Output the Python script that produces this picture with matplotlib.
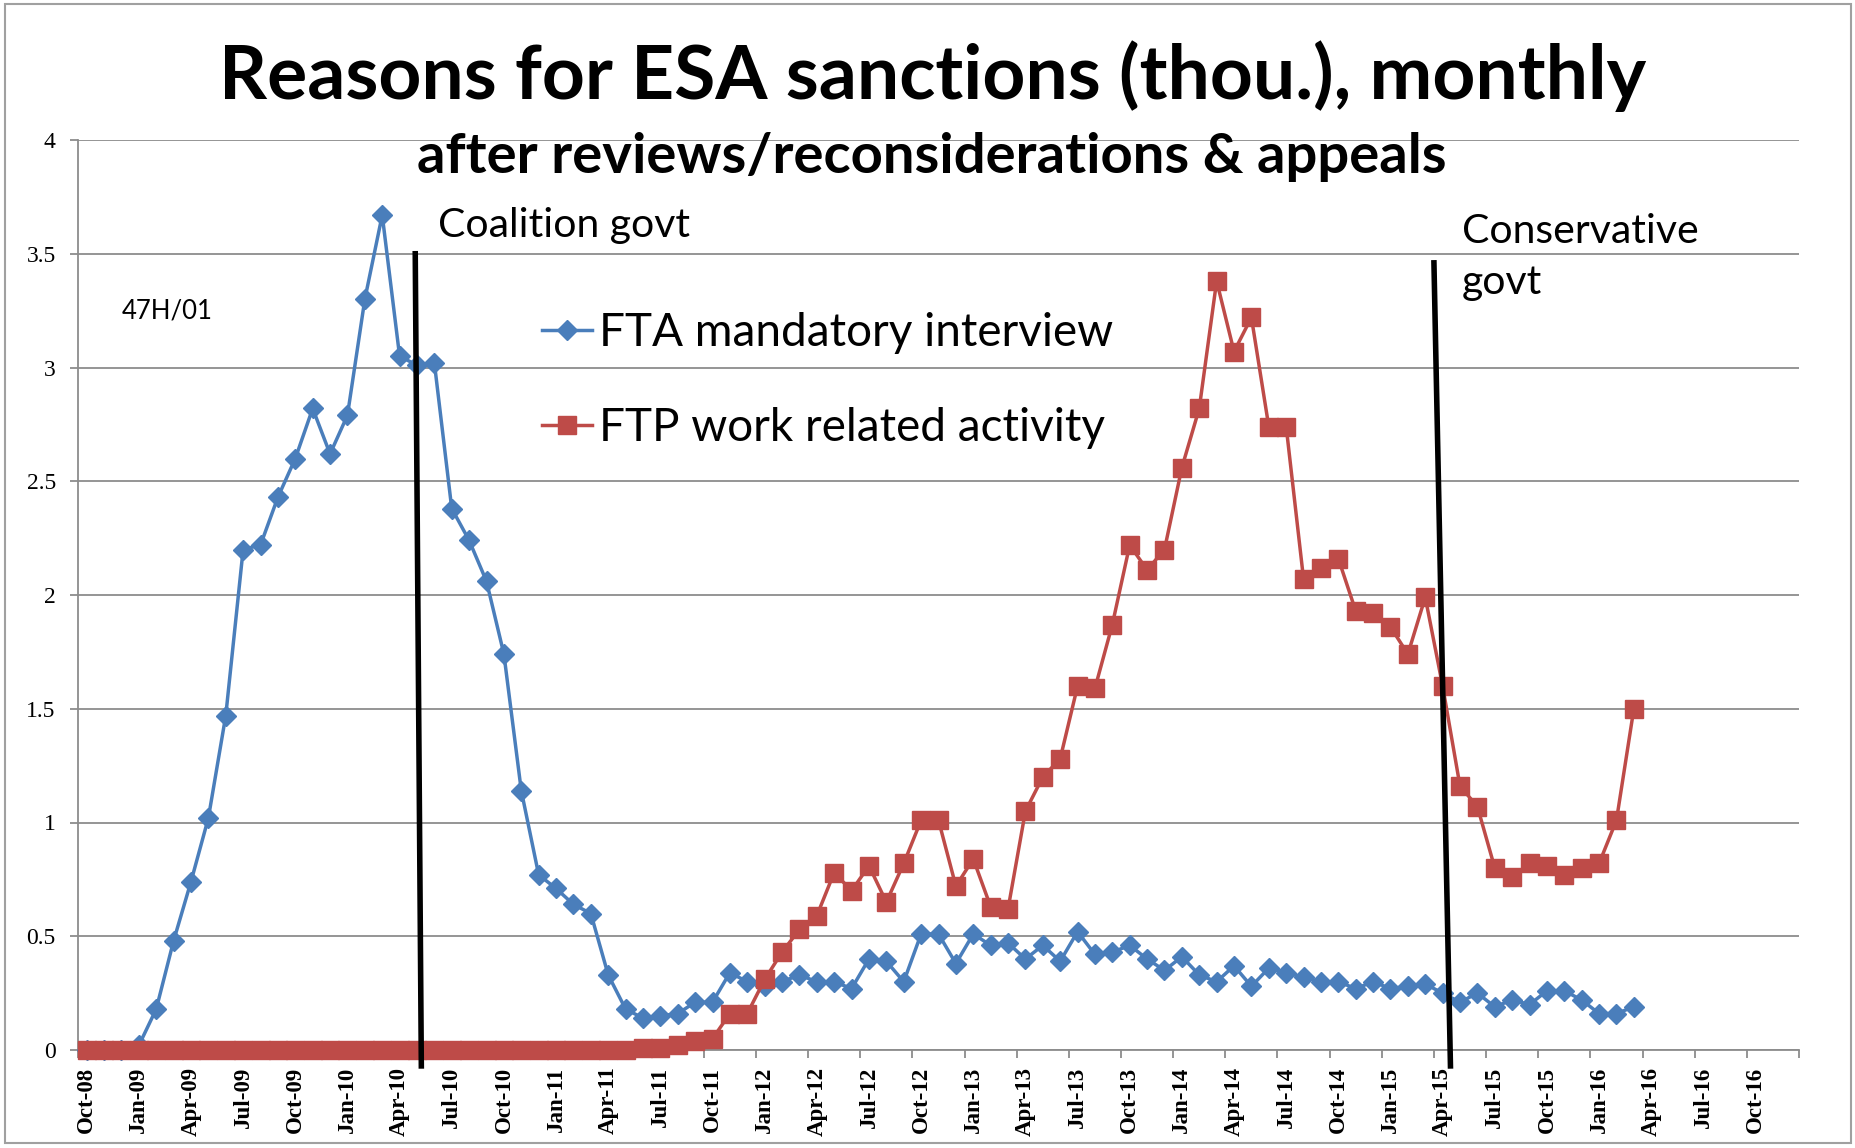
import matplotlib.pyplot as plt
import matplotlib.patches as mpatches
import pandas as pd

# categories: monthly, Oct-08 .. Dec-16 (axis runs past the data)
months = pd.date_range("2008-10-01", "2016-12-01", freq="MS").strftime("%b-%y").tolist()

# thousands of sanctions, Oct-08 .. Mar-16
fta = [0, 0, 0, 0.02, 0.18, 0.48, 0.74, 1.02, 1.47, 2.20,
       2.22, 2.43, 2.60, 2.82, 2.62, 2.79, 3.30, 3.67, 3.05, 3.01,
       3.02, 2.38, 2.24, 2.06, 1.74, 1.14, 0.77, 0.71, 0.64, 0.60,
       0.33, 0.18, 0.14, 0.15, 0.16, 0.21, 0.21, 0.34, 0.30, 0.28,
       0.30, 0.33, 0.30, 0.30, 0.27, 0.40, 0.39, 0.30, 0.51, 0.51,
       0.38, 0.51, 0.46, 0.47, 0.40, 0.46, 0.39, 0.52, 0.42, 0.43,
       0.46, 0.40, 0.35, 0.41, 0.33, 0.30, 0.37, 0.28, 0.36, 0.34,
       0.32, 0.30, 0.30, 0.27, 0.30, 0.27, 0.28, 0.29, 0.25, 0.21,
       0.25, 0.19, 0.22, 0.20, 0.26, 0.26, 0.22, 0.16, 0.16, 0.19]

ftp = [0] * 32 + [
       0.01, 0.01, 0.02, 0.04, 0.05, 0.16, 0.16, 0.31,
       0.43, 0.53, 0.59, 0.78, 0.70, 0.81, 0.65, 0.82, 1.01, 1.01,
       0.72, 0.84, 0.63, 0.62, 1.05, 1.20, 1.28, 1.60, 1.59, 1.87,
       2.22, 2.11, 2.20, 2.56, 2.82, 3.38, 3.07, 3.22, 2.74, 2.74,
       2.07, 2.12, 2.16, 1.93, 1.92, 1.86, 1.74, 1.99, 1.60, 1.16,
       1.07, 0.80, 0.76, 0.82, 0.81, 0.77, 0.80, 0.82, 1.01, 1.50]

# change of government markers (hand drawn, slightly slanted): x top, x bottom, y top
govt_lines = [(18.9, 19.25, 3.5), (77.5, 78.45, 3.46)]

blue = "#4a7ebb"
red = "#be4b48"
grey = "#8c8c8c"
font = "Lato"

fig = plt.figure(figsize=(18.56, 11.48), dpi=100)
ax = fig.add_axes([78 / 1856, 1 - 1050 / 1148, (1799 - 78) / 1856, (1050 - 140) / 1148])

x_fta = range(len(fta))
x_ftp = range(len(ftp))
ax.plot(x_fta, fta, color=blue, lw=2.5, marker="D", ms=10.5, mec=blue,
        label="FTA mandatory interview", clip_on=False, zorder=3)
ax.plot(x_ftp, ftp, color=red, lw=2.5, marker="s", ms=13.5, mec=red,
        label="FTP work related activity", clip_on=False, zorder=4)

for xt, xb, yt in govt_lines:
    ax.plot([xt, xb], [yt, -0.07], color="black", lw=4, clip_on=False, zorder=6)

ax.set_xlim(-0.5, len(months) - 0.5)
ax.set_ylim(0, 4)
ax.set_yticks([i * 0.5 for i in range(9)])
ax.set_yticklabels(["0", "0.5", "1", "1.5", "2", "2.5", "3", "3.5", "4"],
                   fontfamily="Liberation Serif", fontsize=17)
ax.yaxis.grid(True, color=grey, lw=1.3)
ax.set_axisbelow(True)

ax.set_xticks(range(0, len(months), 3))
ax.set_xticklabels(months[::3], rotation=90, fontfamily="Liberation Serif",
                   fontweight="bold", fontsize=16.5)
ax.set_xticks([i - 0.5 for i in range(0, len(months) + 1, 3)], minor=True)
ax.tick_params(axis="x", which="major", length=0, pad=12)
ax.tick_params(axis="x", which="minor", length=6, color=grey, width=1.3)
ax.tick_params(axis="y", length=6, color=grey, width=1.3, pad=10)

for s in ["top", "right"]:
    ax.spines[s].set_visible(False)
for s in ["left", "bottom"]:
    ax.spines[s].set_color(grey)
    ax.spines[s].set_linewidth(1.3)

ax.text(20.2, 3.625, "Coalition govt", fontfamily=font, fontsize=29.5, va="center")
ax.text(79.1, 3.485, "Conservative\ngovt", fontfamily=font, fontsize=29.5,
        va="center", linespacing=1.45)
ax.text(2.0, 3.25, "47H/01", fontfamily=font, fontsize=18.5, va="center")

leg = ax.legend(loc="upper left", bbox_to_anchor=(542 / 1856, 1 - 312 / 1148),
                bbox_transform=fig.transFigure, frameon=False, borderpad=0,
                borderaxespad=0, handlelength=1.1, handletextpad=0.15,
                labelspacing=1.16, prop={"family": font, "size": 33})

fig.text(0.5026, 1 - 76 / 1148, "Reasons for ESA sanctions (thou.), monthly",
         fontfamily=font, fontweight="bold", fontsize=54, ha="center", va="center")
fig.text(0.502, 1 - 156.5 / 1148, "after reviews/reconsiderations & appeals",
         fontfamily=font, fontweight="bold", fontsize=40.5, ha="center", va="center")

fig.patches.append(mpatches.Rectangle((5 / 1856, 5 / 1148), 1846 / 1856, 1139 / 1148,
                                      transform=fig.transFigure, fill=False,
                                      ec="#a0a0a0", lw=1.5))

fig.savefig("out.png", dpi=100)
